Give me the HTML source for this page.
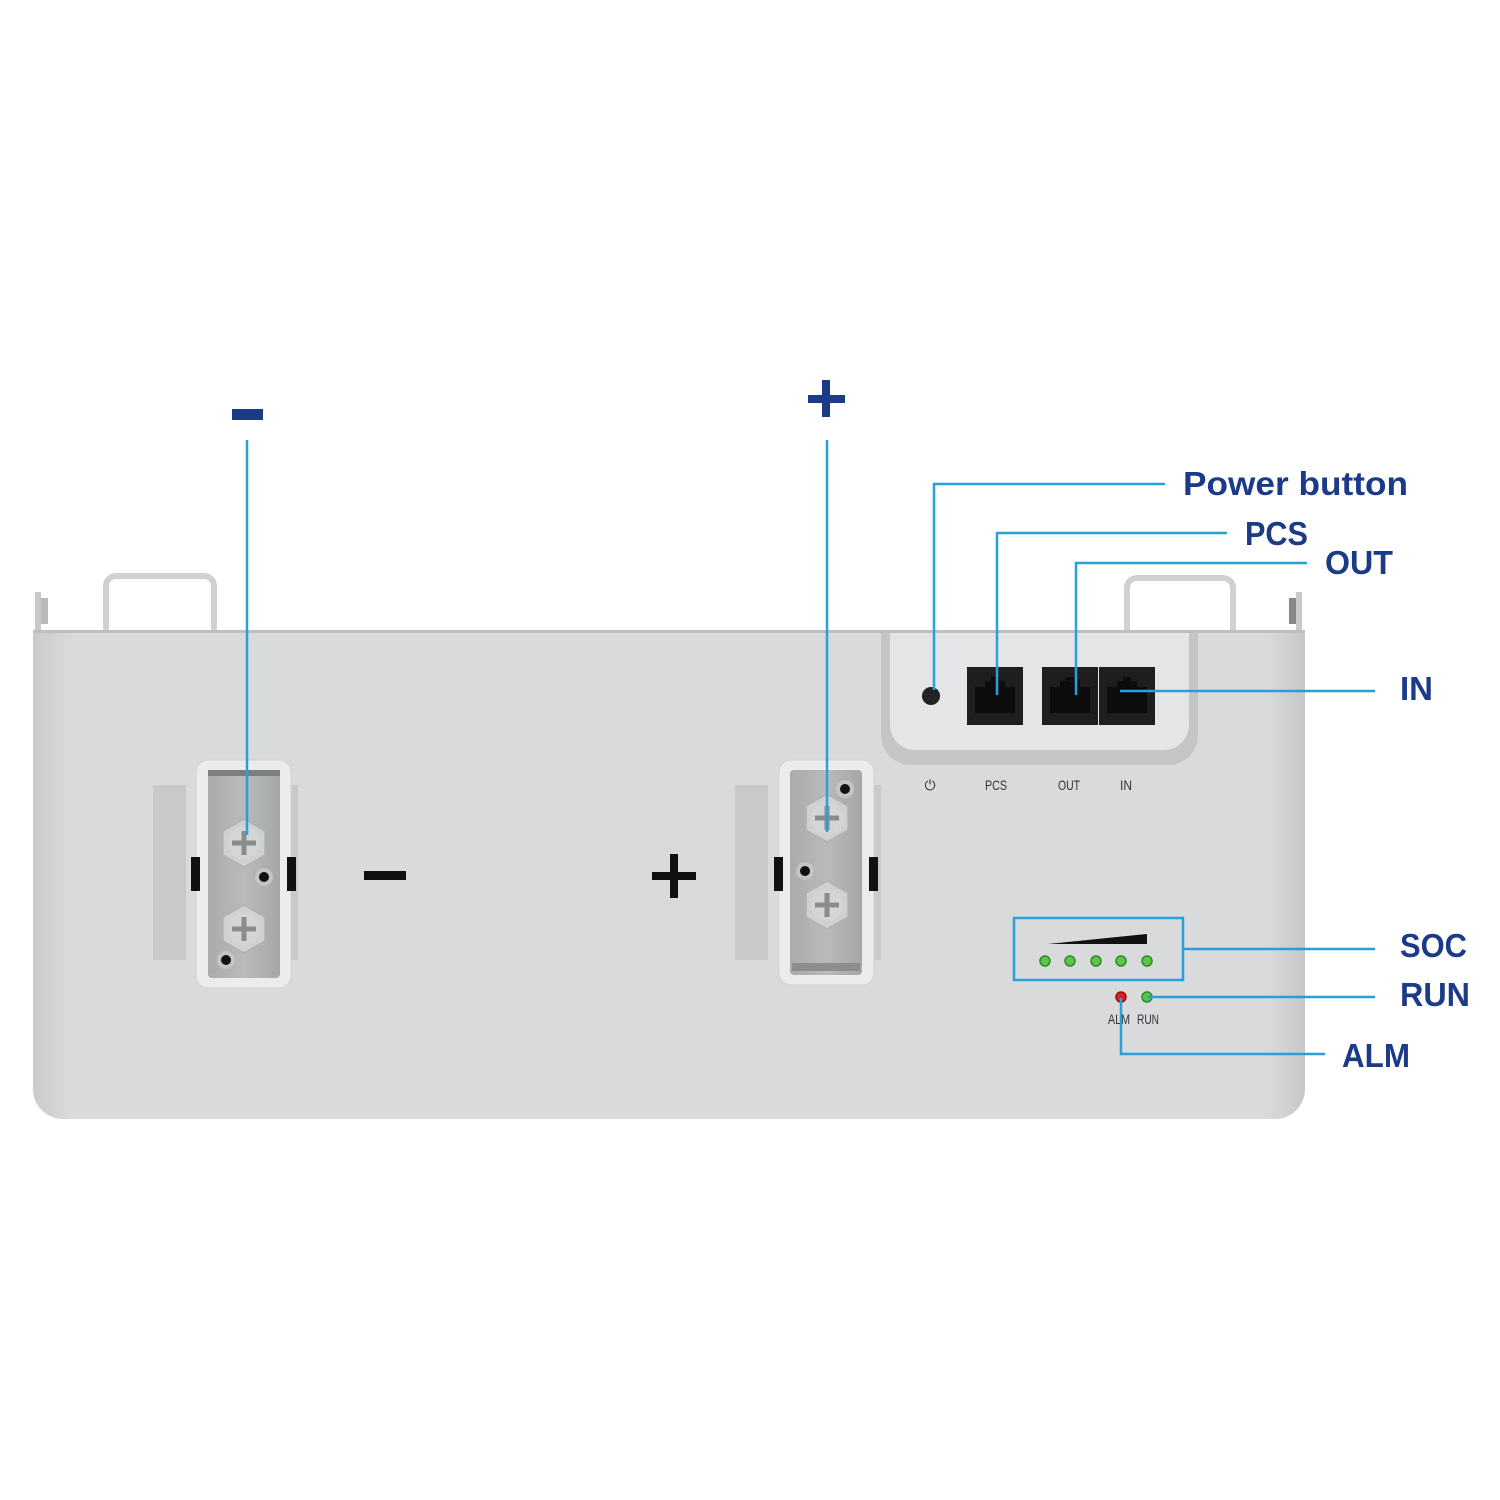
<!DOCTYPE html>
<html><head><meta charset="utf-8"><style>
html,body{margin:0;padding:0;background:#fff;}
svg{display:block;}
.lbl{font-family:"Liberation Sans",sans-serif;font-weight:bold;fill:#1b3a87;font-size:33px;}
.sm{font-family:"Liberation Sans Narrow","Liberation Sans",sans-serif;fill:#333;font-size:14px;}
.ln{stroke:#2a9fd8;stroke-width:2.5;fill:none;}
</style></head><body>
<svg width="1500" height="1500" viewBox="0 0 1500 1500" xmlns="http://www.w3.org/2000/svg">
<defs>
<linearGradient id="bg" x1="0" y1="0" x2="1" y2="0">
<stop offset="0" stop-color="#c9cacc"/><stop offset="0.03" stop-color="#d9dadc"/><stop offset="0.97" stop-color="#d9dadc"/><stop offset="1" stop-color="#c6c7c9"/>
</linearGradient>
<linearGradient id="pl" x1="0" y1="0" x2="1" y2="0">
<stop offset="0" stop-color="#a9aaac"/><stop offset="0.5" stop-color="#b9babc"/><stop offset="1" stop-color="#a5a6a8"/>
</linearGradient>
<g id="bolt">
<polygon points="0,-24 21,-12 21,12 0,24 -21,12 -21,-12" fill="#cfd0d1" stroke="#b0b1b3" stroke-width="1.5"/>
<circle r="16" fill="#d4d5d6"/>
<rect x="-12" y="-2.5" width="24" height="5" fill="#8a8b8d"/>
<rect x="-2.5" y="-12" width="5" height="24" fill="#8a8b8d"/>
</g>
<g id="hole"><circle r="9" fill="#c3c4c6"/><circle r="5" fill="#111"/></g>
<g id="port"><rect width="56" height="58" fill="#1e1e1e"/><path d="M8 20h10v-6h6v-4h8v4h6v6h10v26H8z" fill="#0c0c0c"/></g>
</defs>
<path d="M106 632V586a10 10 0 0 1 10-10h88a10 10 0 0 1 10 10V632" fill="none" stroke="#d0d1d3" stroke-width="6"/>
<path d="M1127 632V588a10 10 0 0 1 10-10h86a10 10 0 0 1 10 10V632" fill="none" stroke="#d0d1d3" stroke-width="6"/>
<rect x="35" y="592" width="6" height="40" fill="#c8c9cb"/><rect x="41" y="598" width="7" height="26" fill="#b9babc"/>
<rect x="1296" y="592" width="6" height="40" fill="#c8c9cb"/><rect x="1289" y="598" width="7" height="26" fill="#888"/>
<path d="M33 632H1305V1089a30 30 0 0 1-30 30H63a30 30 0 0 1-30-30Z" fill="url(#bg)"/>
<rect x="33" y="630" width="1272" height="3" fill="#bdbec0"/>
<path d="M881 633V735a30 30 0 0 0 30 30H1168a30 30 0 0 0 30-30V633Z" fill="#c4c5c7"/>
<path d="M890 633V725a25 25 0 0 0 25 25H1164a25 25 0 0 0 25-25V633Z" fill="#e4e5e6"/>
<circle cx="931" cy="696" r="9" fill="#222"/>
<use href="#port" x="967" y="667"/>
<use href="#port" x="1042" y="667"/>
<use href="#port" x="1099" y="667"/>
<text class="sm" x="930" y="790" text-anchor="middle">⏻</text>
<text class="sm" x="996" y="790" text-anchor="middle" textLength="22" lengthAdjust="spacingAndGlyphs">PCS</text>
<text class="sm" x="1069" y="790" text-anchor="middle" textLength="22" lengthAdjust="spacingAndGlyphs">OUT</text>
<text class="sm" x="1126" y="790" text-anchor="middle" textLength="12" lengthAdjust="spacingAndGlyphs">IN</text>
<rect x="153" y="785" width="33" height="175" fill="#c8c9cb"/>
<rect x="286" y="785" width="12" height="175" fill="#c8c9cb"/>
<rect x="196" y="760" width="95" height="228" rx="12" fill="#ececed" stroke="#d0d1d3"/>
<rect x="208" y="770" width="72" height="208" rx="4" fill="url(#pl)"/>
<rect x="208" y="770" width="72" height="6" fill="#7d7e80"/>
<rect x="191" y="857" width="9" height="34" fill="#111"/><rect x="287" y="857" width="9" height="34" fill="#111"/>
<use href="#bolt" x="244" y="843"/><use href="#bolt" x="244" y="929"/>
<use href="#hole" x="264" y="877"/><use href="#hole" x="226" y="960"/>
<rect x="364" y="871" width="42" height="9" fill="#111"/>
<rect x="735" y="785" width="33" height="175" fill="#c8c9cb"/>
<rect x="869" y="785" width="12" height="175" fill="#c8c9cb"/>
<rect x="779" y="760" width="95" height="225" rx="12" fill="#ececed" stroke="#d0d1d3"/>
<rect x="790" y="770" width="72" height="205" rx="4" fill="url(#pl)"/>
<rect x="792" y="963" width="68" height="8" fill="#8c8d8f"/>
<rect x="774" y="857" width="9" height="34" fill="#111"/><rect x="869" y="857" width="9" height="34" fill="#111"/>
<use href="#bolt" x="827" y="818"/><use href="#bolt" x="827" y="905"/>
<use href="#hole" x="845" y="789"/><use href="#hole" x="805" y="871"/>
<rect x="652" y="872" width="44" height="8" fill="#111"/><rect x="670" y="854" width="8" height="44" fill="#111"/>
<polygon points="1048,944 1147,934 1147,944" fill="#111"/>
<g fill="#5cc648" stroke="#2f8a2a" stroke-width="1.5">
<circle cx="1045" cy="961" r="5"/><circle cx="1070" cy="961" r="5"/><circle cx="1096" cy="961" r="5"/><circle cx="1121" cy="961" r="5"/><circle cx="1147" cy="961" r="5"/>
<circle cx="1147" cy="997" r="5"/>
</g>
<circle cx="1121" cy="997" r="5" fill="#e02020" stroke="#901010" stroke-width="1.5"/>
<text class="sm" x="1119" y="1024" text-anchor="middle" textLength="22" lengthAdjust="spacingAndGlyphs">ALM</text>
<text class="sm" x="1148" y="1024" text-anchor="middle" textLength="22" lengthAdjust="spacingAndGlyphs">RUN</text>
<rect x="1014" y="918" width="169" height="62" class="ln"/>
<path class="ln" d="M247 440V835"/>
<path class="ln" d="M827 440V832"/>
<path class="ln" d="M934 690V484H1165"/>
<path class="ln" d="M997 695V533H1227"/>
<path class="ln" d="M1076 695V563H1307"/>
<path class="ln" d="M1120 691H1375"/>
<path class="ln" d="M1183 949H1375"/>
<path class="ln" d="M1147 997H1375"/>
<path class="ln" d="M1121 998V1054H1325"/>
<rect x="232" y="409" width="31" height="11" fill="#1b3a87"/>
<rect x="808" y="395" width="37" height="8" fill="#1b3a87"/><rect x="822" y="380" width="8" height="37" fill="#1b3a87"/>
<text class="lbl" x="1183" y="495" textLength="225" lengthAdjust="spacingAndGlyphs">Power button</text>
<text class="lbl" x="1245" y="545" textLength="63" lengthAdjust="spacingAndGlyphs">PCS</text>
<text class="lbl" x="1325" y="574" textLength="68" lengthAdjust="spacingAndGlyphs">OUT</text>
<text class="lbl" x="1400" y="700" textLength="33" lengthAdjust="spacingAndGlyphs">IN</text>
<text class="lbl" x="1400" y="957" textLength="67" lengthAdjust="spacingAndGlyphs">SOC</text>
<text class="lbl" x="1400" y="1006" textLength="70" lengthAdjust="spacingAndGlyphs">RUN</text>
<text class="lbl" x="1342" y="1067" textLength="68" lengthAdjust="spacingAndGlyphs">ALM</text>
</svg>
</body></html>
